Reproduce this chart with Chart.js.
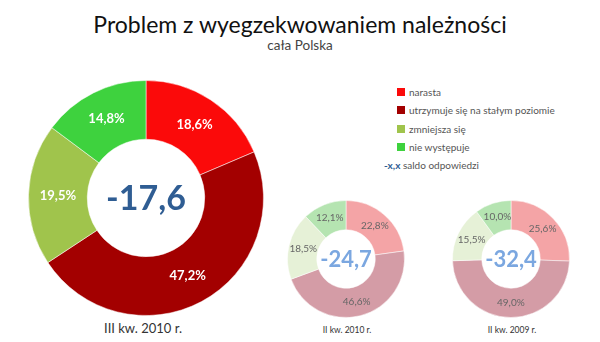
<!DOCTYPE html>
<html>
<head>
<meta charset="utf-8">
<script src="https://cdn.jsdelivr.net/npm/chart.js@4.4.1/dist/chart.umd.min.js"></script>
<style>
  body { margin: 0; background: #fff; font-family: Lato, 'Open Sans', sans-serif; }
  #wrap { position: relative; width: 600px; height: 342px; overflow: hidden; }
  .abs { position: absolute; }
  #title { left: 0; width: 600px; top: 10px; text-align: center; font-size: 23px; color: #111; }
  #subtitle { left: 0; width: 600px; top: 37px; text-align: center; font-size: 13.5px; color: #444; }
  .caption { color: #333; text-align: center; }
  #legend { left: 384px; top: 84px; font-size: 10px; color: #555; }
  #legend div { height: 18.3px; line-height: 16px; }
  #legend span.sw { display: inline-block; width: 8px; height: 8px; margin: 0 4px 0 13px; }
  #legend b { color: #2f5d93; }
</style>
</head>
<body>
<div id="wrap">
  <div id="title" class="abs">Problem z wyegzekwowaniem należności</div>
  <div id="subtitle" class="abs">cała Polska</div>
  <div id="legend" class="abs"></div>
  <div class="abs" style="left:28px;top:80px;width:236px;height:236px"><canvas id="chartBig"></canvas></div>
  <div class="abs" style="left:287px;top:200px;width:118px;height:118px"><canvas id="chartQ2"></canvas></div>
  <div class="abs" style="left:452px;top:200px;width:118px;height:118px"><canvas id="chartQ2prev"></canvas></div>
  <div class="abs caption" id="cap0" style="left:43px;top:320px;width:200px;font-size:13px"></div>
  <div class="abs caption" id="cap1" style="left:297px;top:325px;width:100px;font-size:8.5px"></div>
  <div class="abs caption" id="cap2" style="left:462px;top:325px;width:100px;font-size:8.5px"></div>
</div>
<script>
// dane
const categories = ['narasta', 'utrzymuje się na stałym poziomie', 'zmniejsza się', 'nie występuje']
const periods = ['III kw. 2010 r.', 'II kw. 2010 r.', 'II kw. 2009 r.']
const values2010q3 = [18.6, 47.2, 19.5, 14.8]
const values2010q2 = [22.8, 46.6, 18.5, 12.1]
const values2009q2 = [25.6, 49.0, 15.5, 10.0]
const balances = [-17.6, -24.7, -32.4]

const strongColors = ['#fb0a0a', '#a30000', '#a0c44c', '#3ed23e']
const fadedColors = ['#f4a4a6', '#d49ca6', '#e6f1d7', '#b5e4b1']

const fmt = (v) => v.toFixed(1).replace('.', ',')

// legenda
const legend = document.getElementById('legend')
categories.forEach((c, i) => {
  const row = document.createElement('div')
  row.innerHTML = '<span class="sw" style="background:' + strongColors[i] + '"></span>' + c
  legend.appendChild(row)
})
const last = document.createElement('div')
last.innerHTML = '<b>-x,x</b> saldo odpowiedzi'
legend.appendChild(last)

periods.forEach((p, i) => { document.getElementById('cap' + i).textContent = p })

// etykiety wycinkow + saldo w srodku
const sliceLabels = {
  id: 'sliceLabels',
  afterDatasetsDraw(chart, args, opts) {
    const ctx = chart.ctx
    const meta = chart.getDatasetMeta(0)
    const data = chart.data.datasets[0].data
    ctx.save()
    ctx.textAlign = 'center'
    ctx.textBaseline = 'middle'
    ctx.font = opts.font
    ctx.fillStyle = opts.color
    meta.data.forEach((arc, i) => {
      const pos = arc.tooltipPosition()
      ctx.fillText(fmt(data[i]) + '%', pos.x, pos.y)
    })
    const c = meta.data[0]
    ctx.font = opts.centerFont
    ctx.fillStyle = opts.centerColor
    ctx.fillText(fmt(opts.balance), c.x, c.y + 1)
    ctx.restore()
  },
}

function makeDonut(id, values, colors, labelOpts) {
  return new Chart(document.getElementById(id).getContext('2d'), {
    type: 'doughnut',
    data: {
      labels: categories,
      datasets: [
        {
          data: values,
          backgroundColor: colors,
          borderColor: 'rgba(255,255,255,0.5)',
          borderWidth: 1,
        },
      ],
    },
    options: {
      responsive: true,
      maintainAspectRatio: false,
      animation: false,
      cutout: '50%',
      layout: { padding: 0 },
      plugins: {
        legend: { display: false },
        tooltip: { enabled: false },
        sliceLabels: labelOpts,
      },
    },
    plugins: [sliceLabels],
  })
}

makeDonut('chartBig', values2010q3, strongColors, {
  font: 'bold 13px Lato, sans-serif',
  color: '#ffffff',
  centerFont: 'bold 34px Lato, sans-serif',
  centerColor: '#2f5d93',
  balance: balances[0],
})
makeDonut('chartQ2', values2010q2, fadedColors, {
  font: '10px Lato, sans-serif',
  color: '#666666',
  centerFont: 'bold 22px Lato, sans-serif',
  centerColor: '#7ba7e0',
  balance: balances[1],
})
makeDonut('chartQ2prev', values2009q2, fadedColors, {
  font: '10px Lato, sans-serif',
  color: '#666666',
  centerFont: 'bold 22px Lato, sans-serif',
  centerColor: '#7ba7e0',
  balance: balances[2],
})
</script>
</body>
</html>
